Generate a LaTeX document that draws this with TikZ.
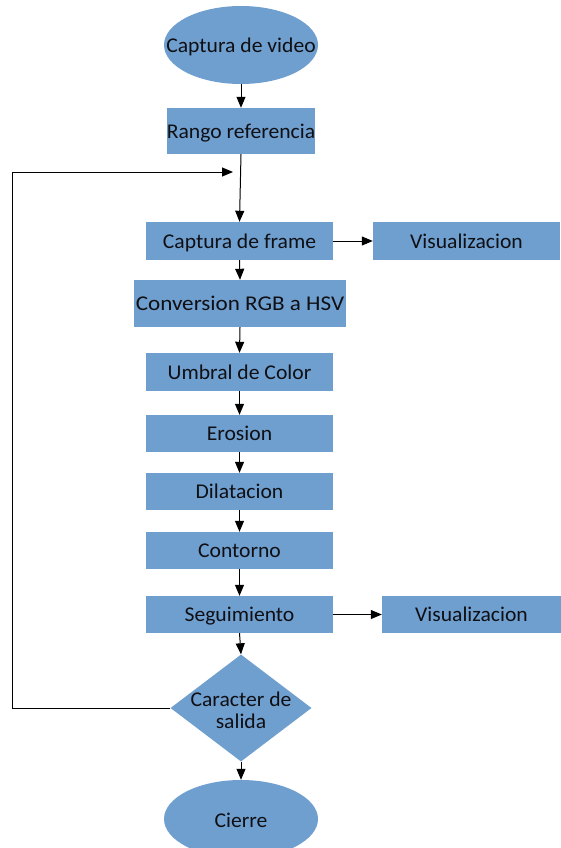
\documentclass[tikz,border=0pt]{standalone}
\usepackage{fontspec}
\setmainfont{Carlito}[FakeStretch=1.03]
\newfontfamily\widefont{Carlito}[FakeStretch=1.1]
\usetikzlibrary{shapes.geometric,arrows.meta}
\definecolor{boxblue}{RGB}{111,159,207}
\definecolor{txt}{RGB}{15,15,20}
\tikzset{
  base/.style={fill=boxblue, draw=none, inner sep=0pt, text=txt, font=\fontsize{21}{22}\selectfont},
  procbox/.style={base, rectangle, minimum width=187pt, minimum height=38pt, text depth=0pt},
  termin/.style={base, ellipse, minimum width=154pt, minimum height=78pt},
  label/.style={base, fill=none, align=center},
  arr/.style={draw=black, line width=1pt, -{Triangle[length=11pt,width=9pt]}},
  plainline/.style={draw=black, line width=1pt}
}
\begin{document}
\begin{tikzpicture}[x=1pt,y=-1pt]
\useasboundingbox (0,0) rectangle (561,848);
\clip (0,0) rectangle (561,848);
\fill[white] (0,0) rectangle (561,848);
\node[termin] (start) at (241,45) {};
\node[label] (starttxt) at (241,47) {Captura de video};
\node[procbox, minimum width=148pt, minimum height=46pt] (rango) at (241,131) {Rango referencia};
\node[procbox] (frame) at (239.5,241) {Captura de frame};
\node[procbox] (vis1) at (466.5,241) {Visualizacion};
\node[procbox, minimum width=212pt, minimum height=47pt, font=\widefont\fontsize{21}{22}\selectfont] (hsv) at (240,303.5) {Conversion RGB a HSV};
\node[procbox] (umbral) at (239.5,372) {Umbral de Color};
\node[procbox, minimum height=37pt] (eros) at (239.5,433.5) {Erosion};
\node[procbox, minimum height=37pt] (dilat) at (239.5,491.5) {Dilatacion};
\node[procbox, minimum height=37pt] (cont) at (239.5,550.5) {Contorno};
\node[procbox, minimum height=37pt] (seg) at (239.5,614.5) {Seguimiento};
\node[procbox, minimum width=179pt, minimum height=37pt] (vis2) at (471.5,614.5) {Visualizacion};
\node[base, diamond, minimum width=141pt, minimum height=107pt] (dec) at (241,708) {};
\node[label] (dectxt) at (241,710) {Caracter de\\salida};
\node[termin] (cierre) at (241,819) {};
\node[label] (cierretxt) at (241,820) {Cierre};
\coordinate (fbl) at (12,708);
\coordinate (fb) at (233,172);
\draw[arr] (start.south) -- (rango.north);
\draw[arr] (rango.south) -- (frame.north);
\draw[arr] (frame.east) -- (vis1.west);
\draw[arr] (frame.south) -- (hsv.north);
\draw[arr] (hsv.south) -- (umbral.north);
\draw[arr] (umbral.south) -- (eros.north);
\draw[arr] (eros.south) -- (dilat.north);
\draw[arr] (dilat.south) -- (cont.north);
\draw[arr] (cont.south) -- (seg.north);
\draw[arr] (seg.east) -- (vis2.west);
\draw[arr] (seg.south) -- (dec.north);
\draw[arr] (dec.south) -- (cierre.north);
\draw[arr] (dec.west) -- (fbl) |- (fb);
\end{tikzpicture}
\end{document}
